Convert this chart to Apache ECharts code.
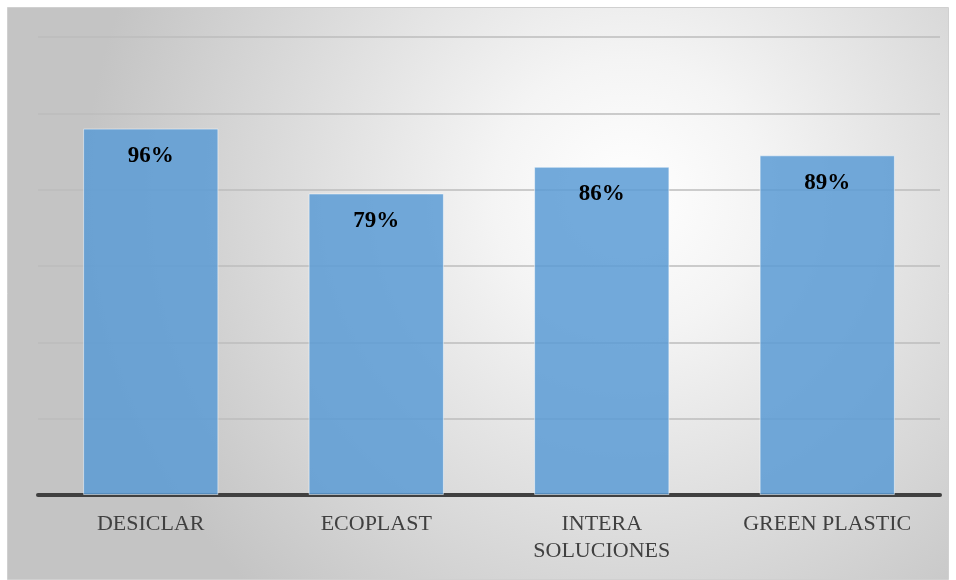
<!DOCTYPE html>
<html>
<head>
<meta charset="utf-8">
<script src="https://cdn.jsdelivr.net/npm/echarts@6/dist/echarts.min.js"></script>
<style>
  html, body { margin: 0; padding: 0; background: #fff; }
  #main { width: 956px; height: 580px; }
</style>
</head>
<body>
<div id="main"></div>
<script>
// datos del gráfico
var empresas = ['DESICLAR', 'ECOPLAST', 'INTERA\nSOLUCIONES', 'GREEN PLASTIC']
var porcentajes = [96, 79, 86, 89]

var chart = echarts.init(document.getElementById('main'))

chart.setOption({
  animation: false,
  graphic: [{
    type: 'rect',
    z: -10,
    silent: true,
    shape: { x: 7.5, y: 7.5, width: 941, height: 572 },
    style: {
      fill: {
        type: 'radial', x: 0.66, y: 0.33, r: 0.95,
        colorStops: [
          { offset: 0, color: '#ffffff' },
          { offset: 0.25, color: '#f4f4f4' },
          { offset: 1, color: '#c4c4c4' }
        ]
      },
      stroke: '#d0d0d0',
      lineWidth: 1
    }
  }],
  grid: {
    left: 38,
    right: 16,
    top: 37,
    bottom: 85
  },
  xAxis: {
    type: 'category',
    data: empresas,
    axisTick: { show: false },
    axisLine: {
      lineStyle: { color: '#404040', width: 4 }
    },
    axisLabel: {
      interval: 0,
      hideOverlap: false,
      color: '#404040',
      fontFamily: 'Liberation Serif',
      fontSize: 22,
      lineHeight: 27,
      margin: 16
    }
  },
  yAxis: {
    type: 'value',
    min: 0,
    max: 120,
    interval: 20,
    axisLabel: { show: false },
    axisLine: { show: false },
    axisTick: { show: false },
    splitLine: {
      lineStyle: { color: '#bdbdbd', width: 1.5 }
    }
  },
  series: [{
    type: 'bar',
    data: porcentajes,
    barWidth: '60%',
    itemStyle: {
      color: 'rgba(91,155,213,0.85)',
      borderColor: 'rgba(255,255,255,0.5)',
      borderWidth: 1
    },
    label: {
      show: true,
      position: 'insideTop',
      distance: 16,
      formatter: '{c}%',
      color: '#000',
      fontFamily: 'Liberation Serif',
      fontWeight: 'bold',
      fontSize: 23
    }
  }]
})
</script>
</body>
</html>
